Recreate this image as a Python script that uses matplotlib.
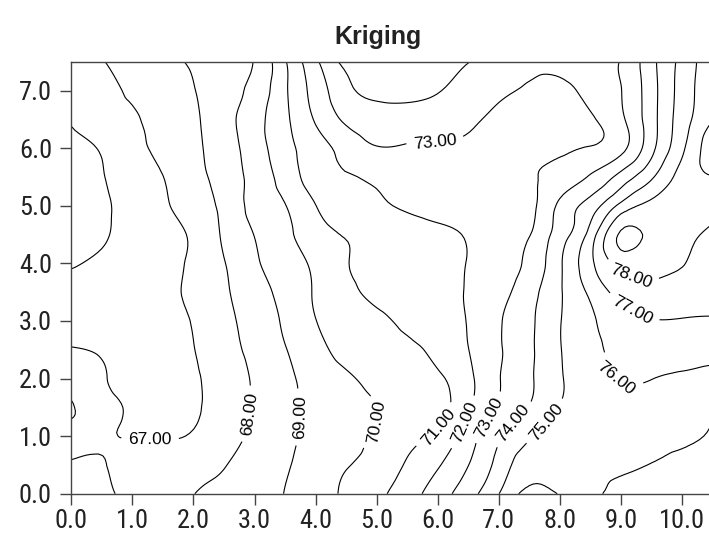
import numpy as np
import matplotlib.pyplot as plt
import matplotlib.tri as mtri

# sample grid (x in metres along the plot, y across it)
x_nodes = [0.0, 0.5, 1.0, 1.5, 2.0, 2.5, 3.0, 3.5, 4.0, 4.5, 5.0,
           5.5, 6.0, 6.5, 7.0, 7.5, 8.0, 8.5, 9.0, 9.5, 10.0, 10.5]
y_nodes = [0.0, 0.5, 1.0, 1.5, 2.0, 2.5, 3.0, 3.5,
           4.0, 4.5, 5.0, 5.5, 6.0, 6.5, 7.0, 7.5]

# kriged values, one row per y node
z_y00 = [66.75, 66.9, 67.15, 67.45, 67.98, 68.3, 68.65, 69.02, 69.55, 70.15, 70.75,
         71.55, 72.5, 73.6, 74.98, 76.3, 75.95, 75.85, 76.2, 76.4, 76.55, 76.65]
z_y05 = [66.95, 66.97, 67.2, 67.4, 67.6, 67.95, 68.45, 68.9, 69.45, 69.95, 70.35,
         71.1, 71.9, 72.98, 74.35, 75.6, 75.55, 75.75, 75.9, 76.02, 76.2, 76.45]
z_y10 = [67.12, 67.05, 66.98, 66.95, 67.08, 67.65, 68.15, 68.75, 69.25, 69.65, 70.15,
         70.7, 71.2, 72.5, 73.85, 74.9, 75.45, 75.65, 75.75, 75.85, 75.9, 76.05]
z_y15 = [66.97, 67.1, 66.92, 66.7, 66.85, 67.5, 68.1, 68.75, 69.2, 69.6, 69.98,
         70.35, 70.6, 71.85, 73.1, 74.05, 75.05, 75.5, 75.7, 75.75, 75.8, 75.9]
z_y20 = [67.15, 67.05, 66.8, 66.75, 66.9, 67.45, 68.1, 68.75, 69.4, 69.85, 70.35,
         70.6, 70.85, 71.75, 72.95, 73.85, 74.9, 75.55, 76.05, 76.02, 75.85, 75.7]
z_y25 = [67.03, 66.95, 66.85, 66.85, 66.98, 67.6, 68.25, 68.95, 69.7, 70.3, 70.6,
         70.8, 71.25, 71.98, 72.9, 73.8, 74.95, 75.7, 76.35, 76.6, 76.55, 76.45]
z_y30 = [66.75, 66.8, 66.85, 66.8, 67.05, 67.7, 68.4, 69.15, 69.98, 70.45, 70.8,
         71.2, 71.6, 72.05, 72.9, 73.8, 74.95, 75.85, 76.6, 76.97, 76.95, 76.9]
z_y35 = [66.5, 66.6, 66.7, 66.8, 67.2, 67.85, 68.6, 69.3, 70.1, 70.75, 71.2,
         71.3, 71.5, 72.1, 72.7, 73.6, 74.9, 76.2, 77.35, 77.6, 77.6, 77.55]
z_y40 = [65.9, 66.2, 66.5, 66.75, 67.15, 67.95, 68.85, 69.55, 70.2, 70.95, 71.2,
         71.35, 71.55, 72.05, 72.55, 73.25, 74.85, 76.75, 78.35, 78.5, 78.05, 77.6]
z_y45 = [65.7, 65.88, 66.45, 66.75, 67.15, 68.15, 69.02, 69.75, 70.6, 71.05, 71.3,
         71.5, 71.75, 72.1, 72.5, 72.95, 74.5, 76.4, 79.15, 78.6, 78.2, 77.7]
z_y50 = [65.6, 65.85, 66.35, 66.85, 67.5, 68.25, 69.3, 69.97, 70.98, 71.6, 71.85,
         72.15, 72.35, 72.5, 72.55, 72.7, 74.2, 75.45, 77.3, 78.3, 78.5, 78.45]
z_y55 = [65.7, 65.95, 66.55, 66.99, 67.65, 68.4, 69.35, 70.4, 71.5, 71.95, 72.15,
         72.4, 72.5, 72.55, 72.65, 72.85, 73.4, 74.1, 75.35, 76.85, 78.35, 78.95]
z_y60 = [65.8, 66.1, 66.8, 67.15, 67.75, 68.55, 69.5, 70.65, 71.55, 72.4, 72.95,
         72.9, 72.9, 72.85, 72.75, 72.7, 72.85, 73.05, 73.7, 75.7, 77.8, 79.7]
z_y65 = [66.08, 66.6, 66.9, 67.35, 67.85, 68.65, 69.6, 70.8, 72.1, 73.15, 73.5,
         73.55, 73.45, 73.15, 72.85, 72.7, 72.7, 72.9, 73.8, 75.6, 77.5, 78.95]
z_y70 = [66.3, 66.7, 67.15, 67.5, 67.95, 68.65, 69.3, 70.85, 72.4, 73.75, 74.25,
         74.25, 74.05, 73.6, 73.15, 72.9, 72.8, 73.25, 73.97, 75.6, 77.4, 78.7]
z_y75 = [66.4, 66.95, 67.35, 67.7, 68.15, 68.6, 69.05, 70.9, 72.8, 74.25, 74.3,
         74.3, 74.2, 74.02, 73.5, 73.2, 73.3, 73.6, 74.05, 75.7, 77.3, 78.75]

levels = [66, 67, 68, 69, 70, 71, 72, 73, 74, 75, 76, 77, 78, 79]
label_spots = [(1.29, 0.88), (2.9, 1.38), (3.74, 1.33), (4.92, 1.28),
               (6.0, 1.16), (6.45, 1.23), (6.86, 1.31), (5.96, 6.06),
               (7.22, 1.23), (7.79, 1.23), (8.94, 2.03), (9.2, 3.2),
               (9.2, 3.86)]

z = np.array([z_y00, z_y05, z_y10, z_y15, z_y20, z_y25, z_y30, z_y35,
              z_y40, z_y45, z_y50, z_y55, z_y60, z_y65, z_y70, z_y75])
xx, yy = np.meshgrid(x_nodes, y_nodes)

# smooth the kriged grid before contouring
tri = mtri.Triangulation(xx.ravel(), yy.ravel())
refiner = mtri.UniformTriRefiner(tri)
tri_fine, z_fine = refiner.refine_field(z.ravel(), subdiv=3)

fig = plt.figure(figsize=(7.09, 5.39), dpi=100)
ax = fig.add_axes([0.1006, 0.084, 0.9, 0.8015])

cs = ax.tricontour(tri_fine, z_fine, levels=levels, colors='black', linewidths=0.8)
lbls = ax.clabel(cs, manual=label_spots, fmt='%.2f', fontsize=12.5,
                 inline=True, inline_spacing=4)
for t in lbls:
    t.set_family(['Liberation Sans', 'DejaVu Sans'])

ax.set_xlim(0, 10.45)
ax.set_ylim(0, 7.5)
ax.set_xticks(range(0, 11))
ax.set_yticks(range(0, 8))
ax.set_xticklabels(['%.1f' % v for v in range(0, 11)])
ax.set_yticklabels(['%.1f' % v for v in range(0, 8)])

for lab in ax.get_xticklabels() + ax.get_yticklabels():
    lab.set_family(['Roboto Condensed', 'DejaVu Sans'])
    lab.set_fontsize(19)
    lab.set_color('#222222')
ax.tick_params(axis='both', direction='out', length=8, width=1, color='#444444')
ax.tick_params(axis='x', pad=3)
ax.tick_params(axis='y', pad=6)

ax.spines['right'].set_visible(False)
for side in ['left', 'bottom', 'top']:
    ax.spines[side].set_color('#444444')
    ax.spines[side].set_linewidth(1)

ax.set_title('Kriging', fontsize=18, fontweight='bold', x=0.481,
             family=['Liberation Sans', 'DejaVu Sans'], color='#222222', pad=13)

fig.savefig('out.png', dpi=100)
